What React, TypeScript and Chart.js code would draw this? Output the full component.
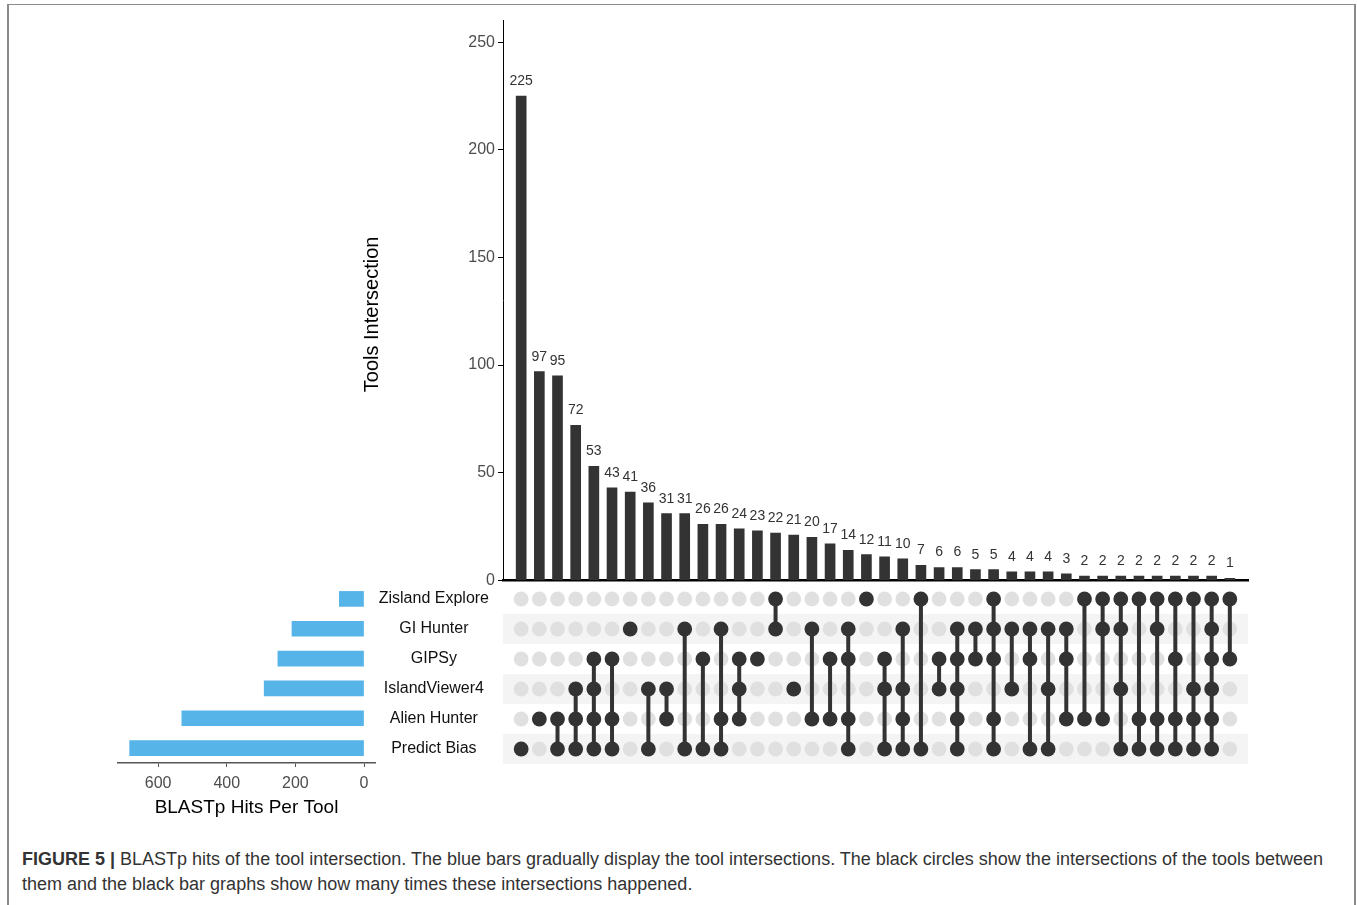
import React, { useEffect, useRef } from 'react';
import { Chart, registerables } from 'chart.js';

Chart.register(...registerables);

const FONT = "'Liberation Sans', Arial, Helvetica, sans-serif";
Chart.defaults.font.family = FONT;

// ---------- data ----------
const SETS = ['Zisland Explore', 'GI Hunter', 'GIPSy', 'IslandViewer4', 'Alien Hunter', 'Predict Bias'];
const SET_SIZES = [72, 210, 251, 291, 531, 683];
const SET_SIZE_TICKS = [0, 200, 400, 600];

const INTERSECTION_SIZES = [
  225, 97, 95, 72, 53, 43, 41, 36, 31, 31, 26, 26, 24, 23, 22, 21, 20, 17, 14, 12,
  11, 10, 7, 6, 6, 5, 5, 4, 4, 4, 3, 2, 2, 2, 2, 2, 2, 2, 2, 1,
];
// set indices (into SETS) that belong to each intersection column
const INTERSECTION_MEMBERS = [
  [5], [4], [4, 5], [3, 4, 5], [2, 3, 4, 5], [2, 4, 5], [1], [3, 5], [3, 4], [1, 5],
  [2, 5], [1, 4, 5], [2, 3, 4], [2], [0, 1], [3], [1, 4], [2, 4], [1, 2, 4, 5], [0],
  [2, 3, 5], [1, 3, 4, 5], [0, 5], [2, 3], [1, 2, 3, 4, 5], [1, 2], [0, 1, 2, 4, 5], [1, 3], [1, 2, 5], [1, 3, 5],
  [1, 2, 4], [0, 4], [0, 1, 4], [0, 1, 3, 5], [0, 4, 5], [0, 1, 4, 5], [0, 2, 4, 5], [0, 3, 4, 5], [0, 1, 2, 3, 4, 5], [0, 2],
];
const INTERSECTION_TICKS = [0, 50, 100, 150, 200, 250];

const DARK = '#333333';
const LIGHT_DOT = '#e0e0e0';
const STRIPE = '#f4f4f4';
const BLUE = '#56b4e9';
const TICK_TEXT = '#4d4d4d';

// ---------- top: intersection size bars ----------
const barValueLabels = {
  id: 'barValueLabels',
  afterDatasetsDraw(chart: any) {
    const { ctx } = chart;
    const meta = chart.getDatasetMeta(0);
    ctx.save();
    ctx.font = `14px ${FONT}`;
    ctx.fillStyle = DARK;
    ctx.textAlign = 'center';
    ctx.textBaseline = 'alphabetic';
    meta.data.forEach((el: any, i: number) => {
      ctx.fillText(String(INTERSECTION_SIZES[i]), el.x, el.y - 11);
    });
    ctx.restore();
  },
};

function IntersectionBars() {
  const ref = useRef<HTMLCanvasElement>(null);
  useEffect(() => {
    const chart = new Chart(ref.current as HTMLCanvasElement, {
      type: 'bar',
      data: {
        datasets: [
          {
            data: INTERSECTION_SIZES.map((v, i) => ({ x: i, y: v })),
            backgroundColor: DARK,
            barThickness: 10,
          } as any,
        ],
      },
      options: {
        animation: false,
        responsive: false,
        devicePixelRatio: 1,
        layout: { padding: { left: 0, right: 8, top: 10, bottom: 10 } },
        plugins: { legend: { display: false }, tooltip: { enabled: false } },
        scales: {
          x: {
            type: 'linear',
            min: -1,
            max: 40,
            offset: false,
            ticks: { display: false },
            grid: { display: false, drawTicks: false },
            border: { display: true, color: '#000', width: 2.5 },
          },
          y: {
            type: 'linear',
            min: 0,
            max: 260,
            afterBuildTicks: (s: any) => {
              s.ticks = INTERSECTION_TICKS.map((v) => ({ value: v }));
            },
            afterFit: (s: any) => {
              s.width = 147;
            },
            ticks: { color: TICK_TEXT, font: { size: 16 }, padding: 3 },
            grid: { display: true, drawOnChartArea: false, drawTicks: true, tickLength: 5, color: '#000' },
            border: { display: true, color: '#000', width: 1 },
            title: {
              display: true,
              text: 'Tools Intersection     ',
              color: '#000',
              font: { size: 20 },
              padding: { top: 4, bottom: 4 },
            },
          },
        },
      } as any,
      plugins: [barValueLabels],
    });
    return () => chart.destroy();
  }, []);
  return (
    <canvas
      ref={ref}
      width={900}
      height={585}
      style={{ position: 'absolute', left: 356, top: 8, width: 900, height: 585 }}
    />
  );
}

// ---------- middle: membership matrix ----------
const stripes = {
  id: 'stripes',
  beforeDatasetsDraw(chart: any) {
    const { ctx, chartArea, scales } = chart;
    const y = scales.y;
    const h = Math.abs(y.getPixelForValue(1) - y.getPixelForValue(0));
    ctx.save();
    ctx.fillStyle = STRIPE;
    SETS.forEach((_, r) => {
      if (r % 2 === 1) {
        const c = y.getPixelForValue(r);
        ctx.fillRect(chartArea.left, c - h / 2, chartArea.right - chartArea.left, h);
      }
    });
    ctx.restore();
  },
};

function Matrix() {
  const ref = useRef<HTMLCanvasElement>(null);
  useEffect(() => {
    const active = INTERSECTION_MEMBERS.flatMap((m, i) => m.map((r) => ({ x: i, y: SETS[r] })));
    const inactive = INTERSECTION_MEMBERS.flatMap((m, i) =>
      SETS.map((s, r) => (m.includes(r) ? null : { x: i, y: s })).filter(Boolean)
    );
    const connectors = INTERSECTION_MEMBERS.map((m, i) => ({ m, i }))
      .filter(({ m }) => m.length > 1)
      .map(({ m, i }) => ({
        data: [
          { x: i, y: SETS[Math.min(...m)] },
          { x: i, y: SETS[Math.max(...m)] },
        ],
        showLine: true,
        borderColor: DARK,
        borderWidth: 4,
        pointRadius: 0,
        order: 1,
      }));
    const chart = new Chart(ref.current as HTMLCanvasElement, {
      type: 'scatter',
      data: {
        datasets: [
          {
            data: active,
            backgroundColor: DARK,
            borderWidth: 0,
            pointRadius: 7.4,
            order: 0,
          },
          ...connectors,
          {
            data: inactive,
            backgroundColor: LIGHT_DOT,
            borderWidth: 0,
            pointRadius: 7.4,
            order: 2,
          },
        ] as any,
      },
      options: {
        animation: false,
        responsive: false,
        devicePixelRatio: 1,
        layout: { padding: { left: 0, right: 17, top: 13, bottom: 12 } },
        plugins: { legend: { display: false }, tooltip: { enabled: false } },
        scales: {
          x: { type: 'linear', min: -1, max: 40, display: false },
          y: {
            type: 'category',
            labels: SETS,
            offset: true,
            afterFit: (s: any) => {
              s.width = 128;
            },
            ticks: { color: '#111', font: { size: 16 }, padding: 0, crossAlign: 'center' },
            grid: { display: false, drawTicks: true, tickLength: 14 },
            border: { display: false },
          },
        },
      } as any,
      plugins: [stripes],
    });
    return () => chart.destroy();
  }, []);
  return (
    <canvas
      ref={ref}
      width={890}
      height={205}
      style={{ position: 'absolute', left: 375, top: 571, width: 890, height: 205 }}
    />
  );
}

// ---------- left: set size bars ----------
function SetSizes() {
  const ref = useRef<HTMLCanvasElement>(null);
  useEffect(() => {
    const chart = new Chart(ref.current as HTMLCanvasElement, {
      type: 'bar',
      data: {
        labels: SETS,
        datasets: [{ data: SET_SIZES, backgroundColor: BLUE, barThickness: 15 }],
      },
      options: {
        animation: false,
        responsive: false,
        devicePixelRatio: 1,
        indexAxis: 'y',
        layout: { padding: { left: 18, right: 10, top: 13, bottom: 0 } },
        plugins: { legend: { display: false }, tooltip: { enabled: false } },
        scales: {
          x: {
            type: 'linear',
            reverse: true,
            min: -32,
            max: 717,
            afterBuildTicks: (s: any) => {
              s.ticks = SET_SIZE_TICKS.map((v) => ({ value: v }));
            },
            afterFit: (s: any) => {
              s.height = 59;
            },
            ticks: { color: TICK_TEXT, font: { size: 16 }, padding: 7 },
            grid: { display: true, drawOnChartArea: false, drawTicks: true, tickLength: 4, color: '#555' },
            border: { display: true, color: '#555', width: 1.5 },
            title: {
              display: true,
              text: 'BLASTp Hits Per Tool',
              color: '#000',
              font: { size: 19 },
              padding: { top: 0, bottom: 3 },
            },
          },
          y: { type: 'category', display: false, offset: true },
        },
      } as any,
    });
    return () => chart.destroy();
  }, []);
  return (
    <canvas
      ref={ref}
      width={285}
      height={251}
      style={{ position: 'absolute', left: 100, top: 571, width: 285, height: 251 }}
    />
  );
}

export default function App() {
  useEffect(() => {
    document.body.style.overflow = 'hidden';
  }, []);
  return (
    <div style={{ position: 'absolute', left: 0, top: 0, width: 1357, height: 905, background: '#fff', overflow: 'hidden' }}>
      <div
        style={{
          position: 'absolute',
          left: 7,
          top: 4,
          width: 1349,
          height: 905,
          borderTop: '1.5px solid #8a8a8a',
          borderLeft: '2px solid #8a8a8a',
          borderRight: '2px solid #8a8a8a',
          boxSizing: 'border-box',
        }}
      />
      <SetSizes />
      <IntersectionBars />
      <Matrix />
      <div
        style={{
          position: 'absolute',
          left: 22,
          top: 847,
          width: 1330,
          fontFamily: FONT,
          fontSize: 18,
          lineHeight: '25px',
          color: '#333',
          whiteSpace: 'nowrap',
        }}
      >
        <span style={{ fontWeight: 'bold' }}>FIGURE 5 |</span> BLASTp hits of the tool intersection. The blue bars
        gradually display the tool intersections. The black circles show the intersections of the tools between
        <br />
        them and the black bar graphs show how many times these intersections happened.
      </div>
    </div>
  );
}
